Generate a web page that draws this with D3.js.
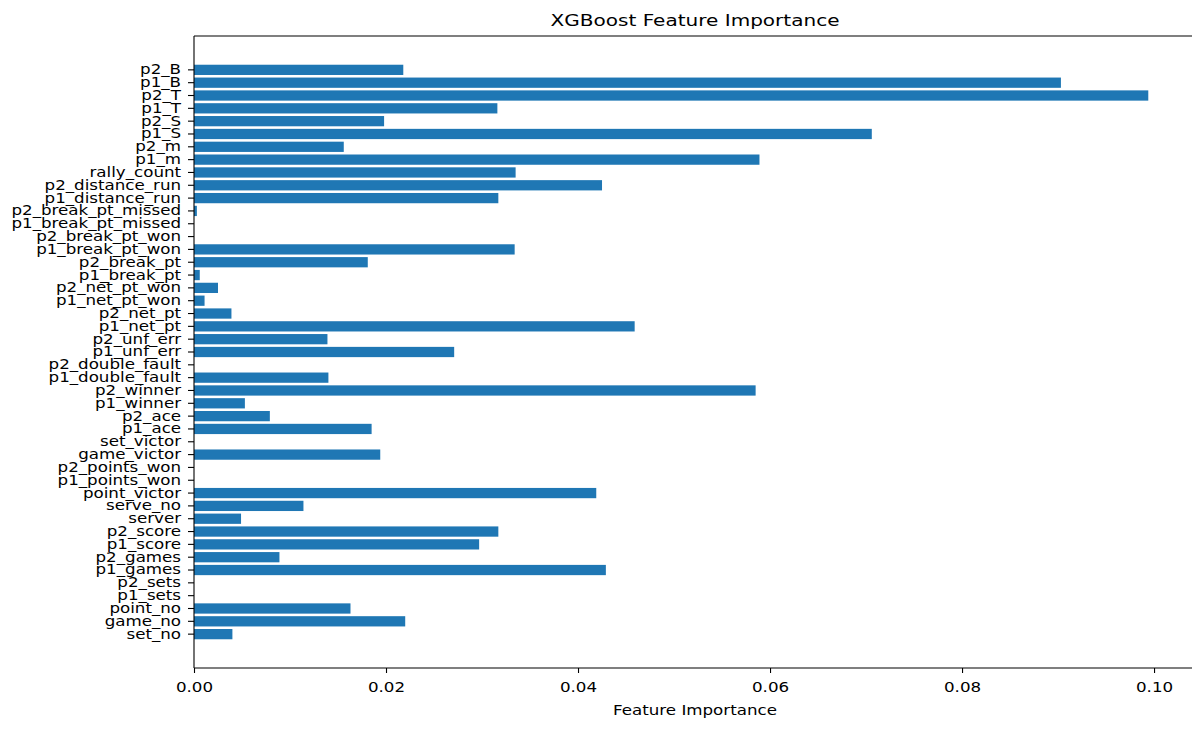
<!DOCTYPE html>
<html>
<head>
<meta charset="utf-8">
<script src="https://cdn.jsdelivr.net/npm/d3@7"></script>
<style>
  html, body { margin: 0; padding: 0; background: #fff; }
  svg { display: block; }
  text { font-family: "DejaVu Sans", sans-serif; fill: #000; }
</style>
</head>
<body>
<svg id="chart" width="1192" height="731"></svg>
<script>
// Features listed bottom-to-top (as plotted by matplotlib barh)
const features = [
  "set_no", "game_no", "point_no", "p1_sets", "p2_sets", "p1_games", "p2_games",
  "p1_score", "p2_score", "server", "serve_no", "point_victor", "p1_points_won",
  "p2_points_won", "game_victor", "set_victor", "p1_ace", "p2_ace", "p1_winner",
  "p2_winner", "p1_double_fault", "p2_double_fault", "p1_unf_err", "p2_unf_err",
  "p1_net_pt", "p2_net_pt", "p1_net_pt_won", "p2_net_pt_won", "p1_break_pt",
  "p2_break_pt", "p1_break_pt_won", "p2_break_pt_won", "p1_break_pt_missed",
  "p2_break_pt_missed", "p1_distance_run", "p2_distance_run", "rally_count",
  "p1_m", "p2_m", "p1_S", "p2_S", "p1_T", "p2_T", "p1_B", "p2_B"
];
const importance = [
  0.0040, 0.0220, 0.0163, 0.0, 0.0, 0.0429, 0.0089,
  0.0297, 0.0317, 0.0049, 0.0114, 0.0419, 0.0,
  0.0, 0.0194, 0.0, 0.0185, 0.0079, 0.0053,
  0.0585, 0.0140, 0.0, 0.0271, 0.0139,
  0.0459, 0.0039, 0.0011, 0.0025, 0.0006,
  0.0181, 0.0334, 0.0, 0.0,
  0.0003, 0.0317, 0.0425, 0.0335,
  0.0589, 0.0156, 0.0706, 0.0198, 0.0316, 0.0994, 0.0903, 0.0218
];
const xTicks = [0, 0.02, 0.04, 0.06, 0.08, 0.10];
const titleText = "XGBoost Feature Importance";
const xLabelText = "Feature Importance";

const data = features.map((f, i) => ({ name: f, value: importance[i] }));

const SX = 1.2;           // horizontal text stretch seen in the reference
const FS = 13.9;          // tick / label font size
const margin = { left: 194, right: 1196, top: 36, bottom: 668 };

const svg = d3.select("#chart");

const x = d3.scaleLinear()
  .domain([0, d3.max(importance) * 1.05])
  .range([margin.left, margin.right]);

const y = d3.scaleBand()
  .domain(features)
  .range([margin.bottom, margin.top])
  .paddingInner(0.2)
  .paddingOuter(2.24);

// bars
svg.append("g")
  .selectAll("rect")
  .data(data)
  .join("rect")
  .attr("x", x(0))
  .attr("y", d => y(d.name))
  .attr("width", d => x(d.value) - x(0))
  .attr("height", y.bandwidth())
  .attr("fill", "#1f77b4");

// x axis
const xAxis = svg.append("g")
  .attr("transform", `translate(0,${margin.bottom})`)
  .call(d3.axisBottom(x).tickValues(xTicks).tickFormat(d3.format(".2f"))
    .tickSize(5).tickSizeOuter(0).tickPadding(9.6));
xAxis.select(".domain").remove();
xAxis.selectAll(".tick line").attr("stroke", "#000").attr("stroke-width", 1.1);
xAxis.selectAll(".tick text")
  .attr("font-size", FS)
  .attr("font-family", "DejaVu Sans")
  .attr("fill", "#222")
  .attr("transform", `scale(${SX},1)`);

// y axis
const yAxis = svg.append("g")
  .attr("transform", `translate(${margin.left},0)`)
  .call(d3.axisLeft(y).tickSize(6).tickSizeOuter(0).tickPadding(4.8));
yAxis.select(".domain").remove();
yAxis.selectAll(".tick line").attr("stroke", "#000").attr("stroke-width", 1.1);
yAxis.selectAll(".tick text")
  .attr("font-size", FS)
  .attr("font-family", "DejaVu Sans")
  .attr("fill", "#222")
  .attr("transform", `scale(${SX},1)`);

// spines
const spine = svg.append("g").attr("fill", "none").attr("stroke", "#000").attr("stroke-width", 1.1);
spine.append("line").attr("x1", margin.left).attr("x2", margin.left).attr("y1", margin.top).attr("y2", margin.bottom);
spine.append("line").attr("x1", margin.left).attr("x2", margin.right).attr("y1", margin.bottom).attr("y2", margin.bottom);
spine.append("line").attr("x1", margin.left).attr("x2", margin.right).attr("y1", margin.top).attr("y2", margin.top);
spine.append("line").attr("x1", margin.right).attr("x2", margin.right).attr("y1", margin.top).attr("y2", margin.bottom);

// title
const cx = (margin.left + margin.right) / 2;
svg.append("g").attr("transform", `translate(${cx},26)`)
  .append("text")
  .attr("transform", `scale(${SX},1)`)
  .attr("text-anchor", "middle")
  .attr("font-size", 16.7)
  .attr("fill", "#222")
  .text(titleText);

// x label
svg.append("g").attr("transform", `translate(${cx},715)`)
  .append("text")
  .attr("transform", `scale(${SX},1)`)
  .attr("text-anchor", "middle")
  .attr("font-size", FS)
  .attr("fill", "#222")
  .text(xLabelText);
</script>
</body>
</html>
